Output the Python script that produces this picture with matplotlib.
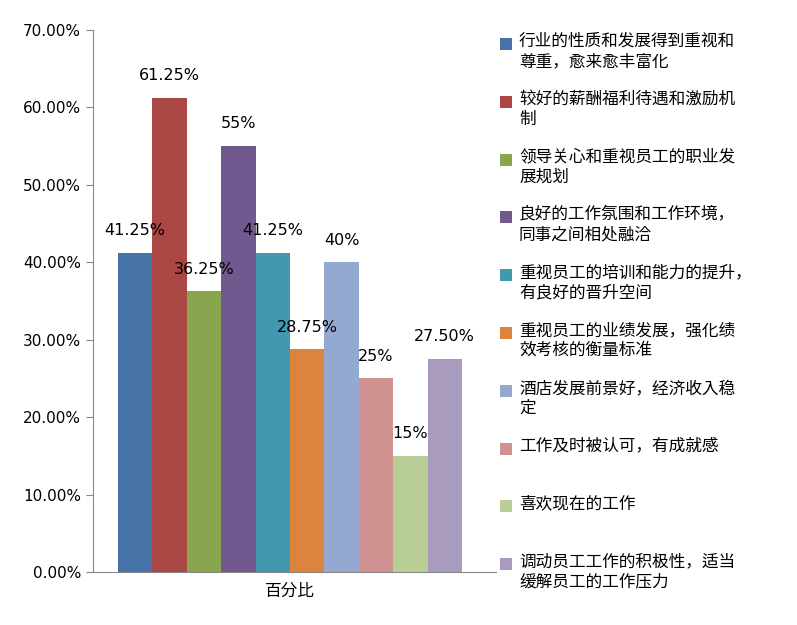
import matplotlib
matplotlib.use("Agg")
import matplotlib.pyplot as plt
from matplotlib import font_manager as fm
from matplotlib.patches import Rectangle

cjk = [f for f in fm.fontManager.ttflist if "CJK" in f.name]
pref = [f for f in cjk if "SC" in f.name] or cjk
cjk_name = pref[0].name if pref else "Noto Sans CJK SC"
plt.rcParams["font.family"] = "sans-serif"
plt.rcParams["font.sans-serif"] = [cjk_name, "DejaVu Sans"]

categories = ["行业的性质和发展得到重视和\n尊重，愈来愈丰富化",
              "较好的薪酬福利待遇和激励机\n制",
              "领导关心和重视员工的职业发\n展规划",
              "良好的工作氛围和工作环境，\n同事之间相处融洽",
              "重视员工的培训和能力的提升，\n有良好的晋升空间",
              "重视员工的业绩发展，强化绩\n效考核的衡量标准",
              "酒店发展前景好，经济收入稳\n定",
              "工作及时被认可，有成就感",
              "喜欢现在的工作",
              "调动员工工作的积极性，适当\n缓解员工的工作压力"]
values = [41.25, 61.25, 36.25, 55, 41.25, 28.75, 40, 25, 15, 27.5]
value_labels = ["41.25%", "61.25%", "36.25%", "55%", "41.25%", "28.75%", "40%", "25%", "15%", "27.50%"]
colors = ["#4572A7", "#AA4643", "#89A54E", "#71588F", "#4198AF",
          "#DB843D", "#93A9CF", "#D19392", "#B9CD96", "#A99BBD"]
yticks = [0, 10, 20, 30, 40, 50, 60, 70]
xlabel = "百分比"

W, H = 797, 625
fig = plt.figure(figsize=(W/100, H/100), dpi=100)
ax = fig.add_axes([93/W, 1-572/H, (496-93)/W, (572-30)/H])
x = list(range(len(values)))
ax.bar(x, values, width=1.0, color=colors)
for xi, v, lab in zip(x, values, value_labels):
    ax.text(xi, v + 1.9, lab, ha="center", va="bottom", fontsize=11.5, family="DejaVu Sans")
ax.set_xlim(-0.5 - 25/34.4, 9.5 + 34/34.4)
ax.set_ylim(0, 70)
ax.set_yticks(yticks)
ax.set_yticklabels([f"{t:.2f}%" for t in yticks], family="DejaVu Sans", fontsize=11)
ax.set_xticks([4.5])
ax.set_xticklabels([xlabel], fontsize=12)
ax.tick_params(axis="x", length=0, pad=8)
ax.tick_params(axis="y", direction="out", length=5, color="#888888")
for s in ["top", "right"]:
    ax.spines[s].set_visible(False)
for s in ["left", "bottom"]:
    ax.spines[s].set_color("#888888")

for i, (lab, c) in enumerate(zip(categories, colors)):
    yc = 44 + i * 57.8
    fig.patches.append(Rectangle((500/W, 1-(yc+6)/H), 12/W, 12/H, transform=fig.transFigure,
                                 facecolor=c, edgecolor="none"))
    fig.text(519/W, 1-(yc-11)/H, lab, ha="left", va="top", fontsize=12, linespacing=1.25)

fig.savefig("out.png", dpi=100)
